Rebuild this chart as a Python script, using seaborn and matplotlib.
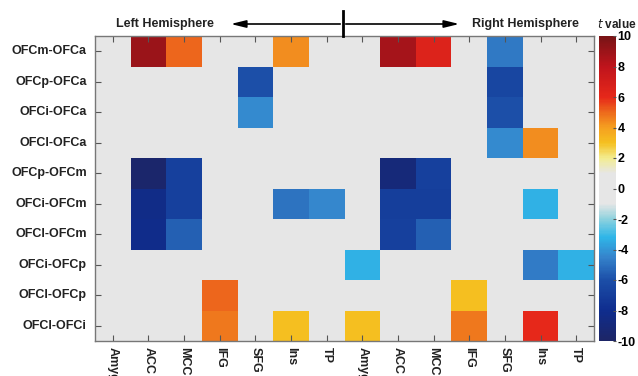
import numpy as np
import pandas as pd
import matplotlib
matplotlib.use('Agg')
import matplotlib.pyplot as plt
import seaborn as sns
from matplotlib.colors import LinearSegmentedColormap

# row / column labels
pairs = ['OFCm-OFCa', 'OFCp-OFCa', 'OFCi-OFCa', 'OFCl-OFCa', 'OFCp-OFCm',
         'OFCi-OFCm', 'OFCl-OFCm', 'OFCi-OFCp', 'OFCl-OFCp', 'OFCl-OFCi']
regions = ['Amyg', 'ACC', 'MCC', 'IFG', 'SFG', 'Ins', 'TP']
columns = regions + regions  # left hemisphere then right hemisphere

# t values (0 = not significant)
t_values = [
    [0, 9.0, 5.0, 0, 0, 4.3, 0, 0, 8.7, 6.5, 0, -4.8, 0, 0],
    [0, 0, 0, 0, -6.0, 0, 0, 0, 0, 0, 0, -6.5, 0, 0],
    [0, 0, 0, 0, -4.3, 0, 0, 0, 0, 0, 0, -6.0, 0, 0],
    [0, 0, 0, 0, 0, 0, 0, 0, 0, 0, 0, -4.3, 4.3, 0],
    [0, -9.7, -6.8, 0, 0, 0, 0, 0, -9.0, -6.8, 0, 0, 0, 0],
    [0, -8.3, -6.8, 0, 0, -5.0, -4.4, 0, -7.0, -7.0, 0, 0, -3.3, 0],
    [0, -8.2, -5.5, 0, 0, 0, 0, 0, -6.8, -5.5, 0, 0, 0, 0],
    [0, 0, 0, 0, 0, 0, 0, -3.3, 0, 0, 0, 0, -4.7, -3.3],
    [0, 0, 0, 5.0, 0, 0, 0, 0, 0, 0, 3.0, 0, 0, 0],
    [0, 0, 0, 4.7, 0, 3.0, 0, 3.0, 0, 0, 4.7, 0, 6.0, 0],
]
cbar_ticks = [10, 8, 6, 4, 2, 0, -2, -4, -6, -8, -10]

df = pd.DataFrame(t_values, index=pairs)

# colour map from -10 to 10
nodes = [(-10, '#1d2566'), (-8, '#0f2d8e'), (-6, '#1c4fa8'), (-4.5, '#3584cc'),
         (-3.2, '#2fb6e8'), (-2, '#8fd2de'), (-1, '#e6e6e6'), (1, '#e6e6e6'),
         (2, '#f3ec90'), (3, '#f5c020'), (4, '#f5a020'), (5, '#ed6a1c'),
         (6, '#e6281a'), (8, '#c0141c'), (10, '#781416')]
cmap = LinearSegmentedColormap.from_list(
    'tval', [((v + 10) / 20, c) for v, c in nodes])

plt.rcParams['font.family'] = ['Liberation Sans', 'DejaVu Sans']
plt.rcParams['axes.unicode_minus'] = False

fig = plt.figure(figsize=(6.38, 3.76), dpi=100)
ax = fig.add_axes([95 / 638, 35 / 376, 499 / 638, 305 / 376])
cax = fig.add_axes([599 / 638, 35 / 376, 17 / 638, 305 / 376])

sns.heatmap(df, vmin=-10, vmax=10, cmap=cmap, ax=ax, cbar_ax=cax,
            cbar_kws={'ticks': cbar_ticks})

ax.set_xticks(np.arange(len(columns)) + 0.5)
ax.set_xticklabels(columns, rotation=-90, fontsize=9, fontweight='bold',
                   color='#222222')
ax.set_yticklabels(pairs, rotation=0, fontsize=9, fontweight='bold',
                   color='#222222')
ax.tick_params(axis='both', direction='in', length=4, color='#555555',
               top=True, right=True, pad=4)
ax.tick_params(axis='y', pad=6)
ax.set_xlabel('')
ax.set_ylabel('')
for s in ax.spines.values():
    s.set_visible(True)
    s.set_color('#777777')
    s.set_linewidth(1)

cax.tick_params(labelsize=9, length=2, direction='in', color='#555555', pad=1)
for lab in cax.get_yticklabels():
    lab.set_fontweight('bold')

# hemisphere header
fig.text(165 / 638, 1 - 24 / 376, 'Left Hemisphere', ha='center', va='center',
         fontsize=9, fontweight='bold', color='#222222')
fig.text(525 / 638, 1 - 24 / 376, 'Right Hemisphere', ha='center', va='center',
         fontsize=9, fontweight='bold', color='#222222')
fig.text(617 / 638, 1 - 24 / 376, r'$\it{t}$ value', ha='center', va='center',
         fontsize=8.5, fontweight='bold', color='#222222')
y_arrow = 1 - 24 / 376
for x_end in (228 / 638, 462 / 638):
    fig.add_artist(matplotlib.patches.FancyArrowPatch(
        (343 / 638, y_arrow), (x_end, y_arrow), transform=fig.transFigure,
        arrowstyle='-|>,head_length=9,head_width=2.2', color='black', lw=1.2))
fig.add_artist(matplotlib.lines.Line2D([343 / 638, 343 / 638],
                                       [1 - 11 / 376, 1 - 36 / 376],
                                       transform=fig.transFigure,
                                       color='black', lw=2))

fig.savefig('out.png', dpi=100)
